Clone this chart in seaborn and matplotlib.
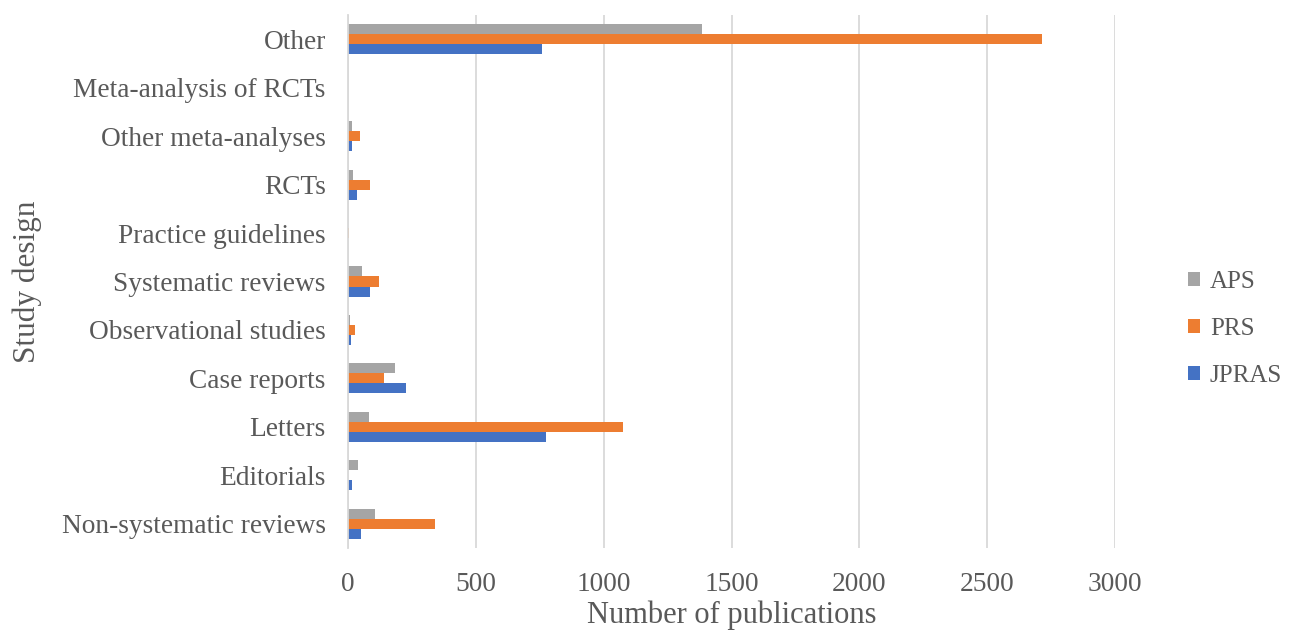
import matplotlib
matplotlib.use("Agg")
import matplotlib.pyplot as plt
import seaborn as sns
import pandas as pd

# Study designs, listed top to bottom
designs = [
    "Other",
    "Meta-analysis of RCTs",
    "Other meta-analyses",
    "RCTs",
    "Practice guidelines",
    "Systematic reviews",
    "Observational studies",
    "Case reports",
    "Letters",
    "Editorials",
    "Non-systematic reviews",
]

journals = ["APS", "PRS", "JPRAS"]

aps = [1384, 0, 14, 21, 1, 56, 8, 183, 82, 40, 105]
prs = [2715, 0, 45, 86, 3, 123, 26, 140, 1075, 0, 342]
jpras = [760, 0, 17, 34, 1, 86, 13, 226, 775, 17, 51]

x_ticks = [0, 500, 1000, 1500, 2000, 2500, 3000]

colors = {"APS": "#A5A5A5", "PRS": "#ED7D31", "JPRAS": "#4472C4"}
text_color = "#595959"

rows = []
for name, vals in zip(journals, [aps, prs, jpras]):
    for d, v in zip(designs, vals):
        rows.append({"design": d, "journal": name, "count": v})
df = pd.DataFrame(rows)

sns.set_theme(style="white")
plt.rcParams["font.family"] = ["Liberation Serif", "DejaVu Serif"]

fig = plt.figure(figsize=(12.9, 6.32), dpi=100)
ax = fig.add_axes([348 / 1290, 1 - 548 / 632, (1115 - 348) / 1290, (548 - 15) / 632])

sns.barplot(
    data=df, y="design", x="count", hue="journal", order=designs,
    hue_order=journals, palette=colors, orient="h", width=0.62,
    saturation=1, linewidth=0, ax=ax,
)

ax.set_xlim(0, 3000)
ax.set_xticks(x_ticks)
ax.set_xticklabels([str(t) for t in x_ticks])
ax.grid(axis="x", color="#D9D9D9", linewidth=1.3)
ax.grid(axis="y", visible=False)
ax.set_axisbelow(True)
for s in ["top", "right", "bottom"]:
    ax.spines[s].set_visible(False)
ax.spines["left"].set_color("#D9D9D9")
ax.spines["left"].set_linewidth(1.3)

ax.tick_params(axis="both", length=0, labelsize=19.7, colors=text_color)
ax.tick_params(axis="x", pad=17)
ax.tick_params(axis="y", pad=16)

ax.set_xlabel("Number of publications", fontsize=22, color=text_color, labelpad=3)
ax.set_ylabel("Study design", fontsize=22.5, color=text_color, labelpad=14)

handles, labels = ax.get_legend_handles_labels()
ax.legend_.remove()
fig.legend(
    handles, labels, loc="center left", bbox_to_anchor=(1165 / 1290, 1 - 329 / 632),
    frameon=False, fontsize=18, handlelength=0.5, handleheight=0.5,
    handletextpad=0.4, labelspacing=1.0, labelcolor=text_color,
)

fig.savefig("out.png", dpi=100)
